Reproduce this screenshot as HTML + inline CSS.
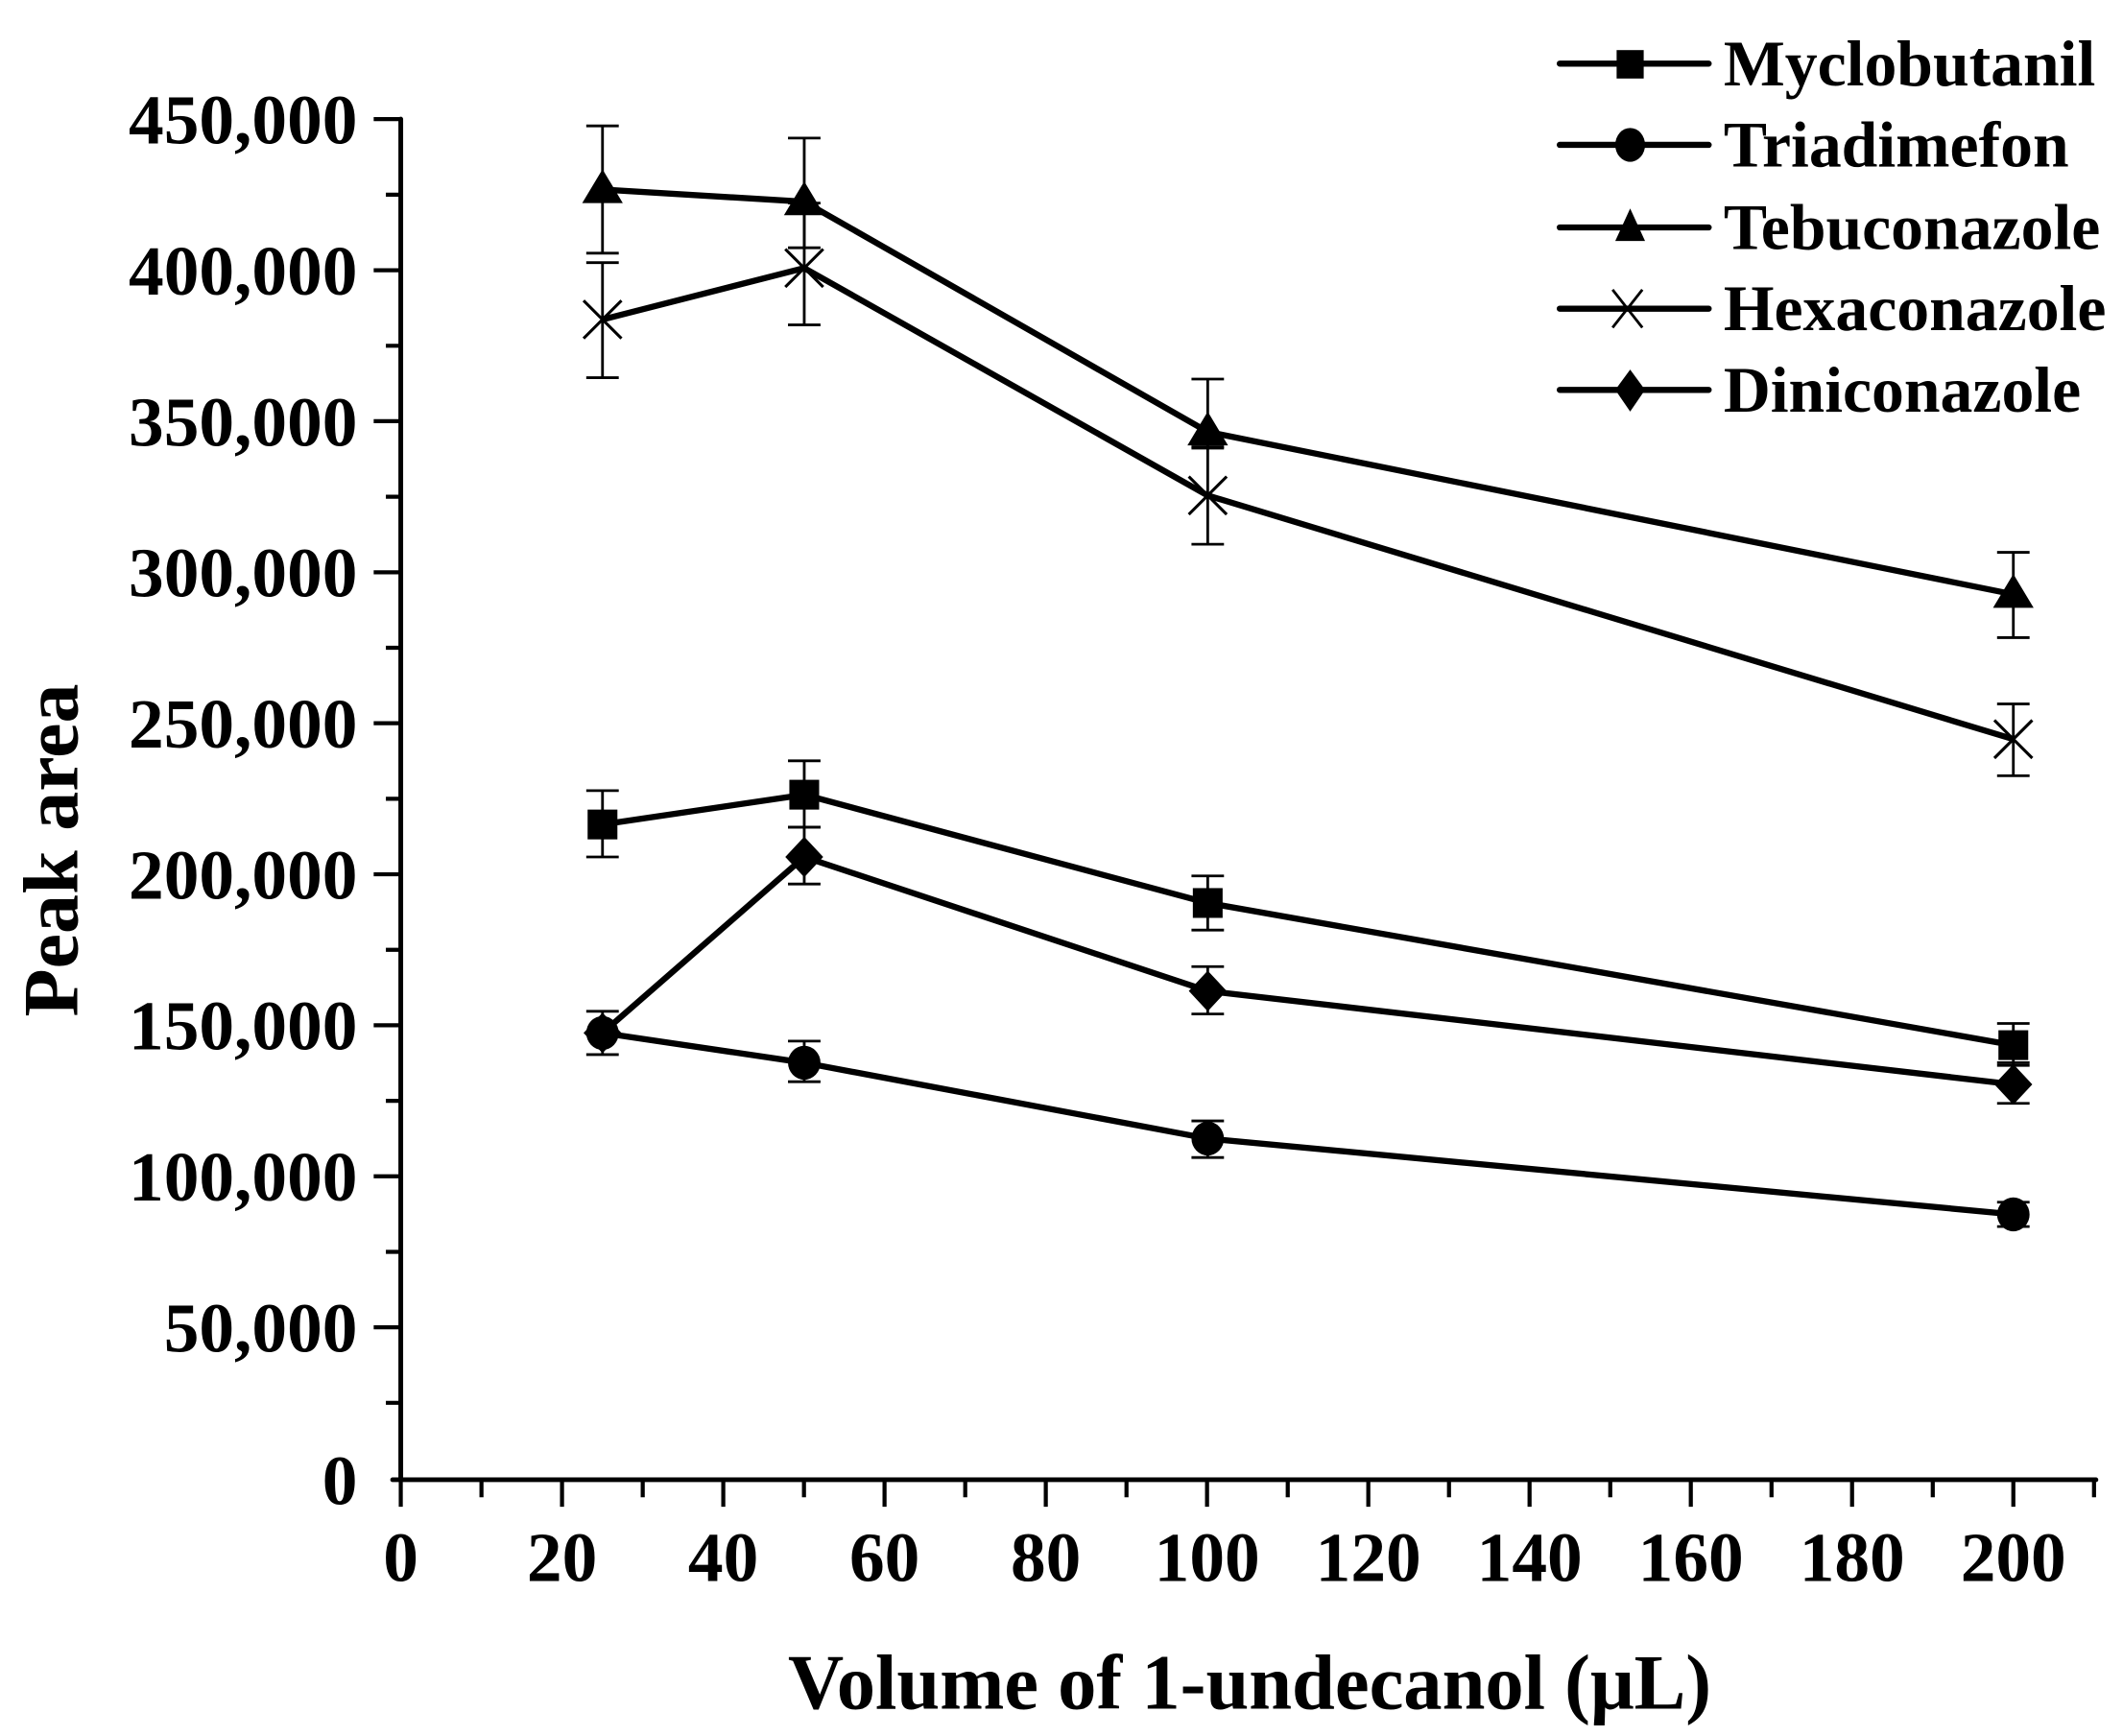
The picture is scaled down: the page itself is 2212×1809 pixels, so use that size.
<!DOCTYPE html>
<html><head><meta charset="utf-8"><style>html,body{margin:0;padding:0;background:#fff}svg{display:block}</style></head>
<body>
<svg width="2212" height="1809" viewBox="0 0 1568 1282.3" preserveAspectRatio="none" xmlns="http://www.w3.org/2000/svg" font-family="Liberation Serif, serif" font-weight="bold">
<rect width="1568" height="1283" fill="#fff"/>
<g stroke="#000" stroke-width="3.5" stroke-linecap="round" fill="none">
<path d="M296 88 V1093 M290 1093 H1548"/>
</g>
<g stroke="#000" stroke-width="3">
<path d="M296 88H276 M296 199.6H276 M296 311.1H276 M296 422.7H276 M296 534.2H276 M296 645.8H276 M296 757.3H276 M296 868.9H276 M296 980.4H276"/>
<path d="M296 143.8H285 M296 255.4H285 M296 366.9H285 M296 478.5H285 M296 590H285 M296 701.6H285 M296 813.1H285 M296 924.7H285 M296 1036.2H285"/>
<path d="M296 1093V1113 M415.1 1093V1113 M534.2 1093V1113 M653.3 1093V1113 M772.4 1093V1113 M891.5 1093V1113 M1010.6 1093V1113 M1129.7 1093V1113 M1248.8 1093V1113 M1367.9 1093V1113 M1487 1093V1113"/>
<path d="M355.6 1093V1106 M474.7 1093V1106 M593.8 1093V1106 M712.9 1093V1106 M832 1093V1106 M951.1 1093V1106 M1070.2 1093V1106 M1189.3 1093V1106 M1308.4 1093V1106 M1427.5 1093V1106 M1546.6 1093V1106"/>
</g>
<g font-size="52" text-anchor="end">
<text x="264" y="106">450,000</text><text x="264" y="217.6">400,000</text><text x="264" y="329.1">350,000</text><text x="264" y="440.7">300,000</text><text x="264" y="552.2">250,000</text><text x="264" y="663.8">200,000</text><text x="264" y="775.3">150,000</text><text x="264" y="886.9">100,000</text><text x="264" y="998.4">50,000</text><text x="264" y="1111">0</text>
</g>
<g font-size="52" text-anchor="middle">
<text x="296" y="1168">0</text><text x="415.1" y="1168">20</text><text x="534.2" y="1168">40</text><text x="653.3" y="1168">60</text><text x="772.4" y="1168">80</text><text x="891.5" y="1168">100</text><text x="1010.6" y="1168">120</text><text x="1129.7" y="1168">140</text><text x="1248.8" y="1168">160</text><text x="1367.9" y="1168">180</text><text x="1487" y="1168">200</text>
</g>
<text x="923" y="1262" font-size="58" text-anchor="middle" textLength="682" lengthAdjust="spacingAndGlyphs">Volume of 1-undecanol (μL)</text>
<text transform="translate(57,628) rotate(-90)" font-size="58" text-anchor="middle" textLength="246" lengthAdjust="spacingAndGlyphs">Peak area</text>

<g stroke="#000" stroke-width="2" fill="none">
<path d="M445 93V187 M433 93H457 M433 187H457 M594 102V183 M582 102H606 M582 183H606 M892 280V331 M880 280H904 M880 331H904 M1487 408V471 M1475 408H1499 M1475 471H1499"/>
<path d="M445 194V279 M433 194H457 M433 279H457 M594 150V240 M582 150H606 M582 240H606 M892 330V402 M880 330H904 M880 402H904 M1487 520V573 M1475 520H1499 M1475 573H1499"/>
<path d="M445 584V633 M433 584H457 M433 633H457 M594 562V611 M582 562H606 M582 611H606 M892 647V687 M880 647H904 M880 687H904 M1487 756V787 M1475 756H1499 M1475 787H1499"/>
<path d="M594 611V653 M582 611H606 M582 653H606 M892 714V749 M880 714H904 M880 749H904 M1487 785V815 M1475 785H1499 M1475 815H1499"/>
<path d="M445 747V779 M433 747H457 M433 779H457 M594 769V799 M582 769H606 M582 799H606 M892 828V855 M880 828H904 M880 855H904 M1487 888V906 M1475 888H1499 M1475 906H1499"/>
</g>
<g stroke="#000" stroke-width="4.5" fill="none" stroke-linejoin="round">
<polyline points="445,140 594,149 892,319 1487,439"/>
<polyline points="445,236 594,198 892,366 1487,546"/>
<polyline points="445,609 594,587 892,667 1487,772"/>
<polyline points="445,763 594,633 892,732 1487,801"/>
<polyline points="445,763 594,785 892,841 1487,897"/>
</g>
<g fill="#000">
<path d="M445 125L460 150H430Z M594 134L609 159H579Z M892 304L907 329H877Z M1487 424L1502 449H1472Z"/>
<rect x="434" y="598" width="22" height="22"/><rect x="583" y="576" width="22" height="22"/><rect x="881" y="656" width="22" height="22"/><rect x="1476" y="761" width="22" height="22"/>
<path d="M445 748L459 763L445 778L431 763Z M594 618L608 633L594 648L580 633Z M892 717L906 732L892 747L878 732Z M1487 786L1501 801L1487 816L1473 801Z"/>
<ellipse cx="445" cy="763" rx="12" ry="12.5"/><ellipse cx="594" cy="785" rx="12" ry="12.5"/><ellipse cx="892" cy="841" rx="12" ry="12.5"/><ellipse cx="1487" cy="897" rx="12" ry="12.5"/>
</g>
<g stroke="#000" stroke-width="2.2">
<path d="M431 222L459 250M431 250L459 222 M580 184L608 212M580 212L608 184 M878 352L906 380M878 380L906 352 M1473 532L1501 560M1473 560L1501 532"/>
</g>
<g stroke="#000" stroke-width="4.5" stroke-linecap="round">
<path d="M1152 47H1262 M1152 107H1262 M1152 168H1262 M1152 228H1262 M1152 288H1262"/>
</g>
<g fill="#000">
<rect x="1194" y="37" width="20" height="21"/>
<ellipse cx="1204" cy="107" rx="11" ry="12.5"/>
<path d="M1204 154L1215 178H1193Z"/>
<path d="M1204 273L1215 288L1204 304L1193 288Z"/>
</g>
<path d="M1191 214L1213 242M1191 242L1213 214" stroke="#000" stroke-width="2"/>
<g font-size="48">
<text x="1273" y="63">Myclobutanil</text>
<text x="1273" y="123">Triadimefon</text>
<text x="1273" y="184">Tebuconazole</text>
<text x="1273" y="244">Hexaconazole</text>
<text x="1273" y="304">Diniconazole</text>
</g>
</svg>
</body></html>
